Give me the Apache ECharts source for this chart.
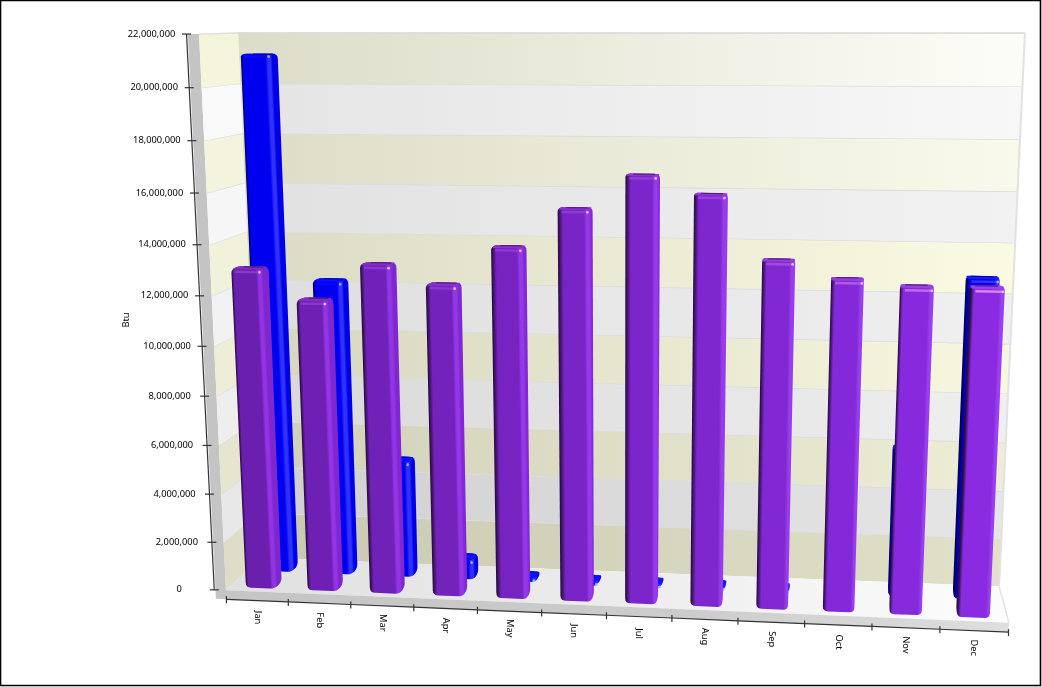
<!DOCTYPE html>
<html><head><meta charset="utf-8">
<style>html,body{margin:0;padding:0;background:#fff}#c{width:1042px;height:687px}</style>
<script src="https://cdn.jsdelivr.net/npm/echarts@6/dist/echarts.min.js"></script>
</head><body><div id="c"></div>
<script>
var months=['Jan','Feb','Mar','Apr','May','Jun','Jul','Aug','Sep','Oct','Nov','Dec'];
var blueValues=[21200000,12250000,4880000,820000,150000,100000,90000,90000,70000,0,6000000,12800000];
var purpleValues=[13000000,11800000,13250000,12500000,14000000,15500000,16800000,16100000,13650000,12980000,12750000,12760000];
var yTicks=[0,2000000,4000000,6000000,8000000,10000000,12000000,14000000,16000000,18000000,20000000,22000000];
var stripeStarts=[0,2000000,4000000,6000000,8000000,10000000,12000000,14000000,16000000,18000000,20000000];
var backLeft=['#c9c9b3','#cfcfcf','#d0d0ba','#d8d8d8','#d6d6c0','#dedede','#dbdbc5','#e1e1e1','#dcdcc6','#e4e4e4','#dcdcc8'];
var backRight=['#e1e1c9','#e6e6e6','#eeeed6','#efefef','#f8f8e0','#f0f0f0','#fbfbe4','#f2f2f2','#fafaec','#f8f8f8','#fdfdf8'];
var sideColors=['#dedec8','#e8e8e8','#e6e6d0','#eeeeee','#eeeed8','#f2f2f2','#f2f2dc','#f6f6f6','#f4f4de','#f9f9f9','#f5f5dc'];

// camera calibration: model (band, value in millions, depth) to pixels
var calib=[[0,0,0,225,591],[12,0,0,1009,622],[12,0,1,999,587],[0,0,1,262,557],[0,22,1,237,33],[12,22,1,1025,33],[0,22,0,200,34]];
function solve(A,b){var n=b.length,i,j,k;for(i=0;i<n;i++){var p=i;for(k=i+1;k<n;k++)if(Math.abs(A[k][i])>Math.abs(A[p][i]))p=k;
 var t=A[i];A[i]=A[p];A[p]=t;t=b[i];b[i]=b[p];b[p]=t;
 for(k=i+1;k<n;k++){var f=A[k][i]/A[i][i];for(j=i;j<n;j++)A[k][j]-=f*A[i][j];b[k]-=f*b[i];}}
 var x=[];for(i=n-1;i>=0;i--){var s=b[i];for(j=i+1;j<n;j++)s-=A[i][j]*x[j];x[i]=s/A[i][i];}return x;}
var cam=(function(){var R=[],r=[];calib.forEach(function(c){var X=c[0]/12,Y=c[1]/22,Z=c[2],u=c[3]/1000,v=c[4]/1000;
 R.push([X,Y,Z,1,0,0,0,0,-u*X,-u*Y,-u*Z]);r.push(u);R.push([0,0,0,0,X,Y,Z,1,-v*X,-v*Y,-v*Z]);r.push(v);});
 var A=[],b=[],i,j,k;for(i=0;i<11;i++){A.push([]);var s=0;for(j=0;j<11;j++){var t=0;for(k=0;k<R.length;k++)t+=R[k][i]*R[k][j];A[i].push(t);}
 for(k=0;k<R.length;k++)s+=R[k][i]*r[k];b.push(s);}return solve(A,b);})();
function proj(X,Y,Z){X/=12;Y/=22;var w=cam[8]*X+cam[9]*Y+cam[10]*Z+1;
 return [1000*(cam[0]*X+cam[1]*Y+cam[2]*Z+cam[3])/w,1000*(cam[4]*X+cam[5]*Y+cam[6]*Z+cam[7])/w];}

var GRID={l:100,t:50,w:800,h:500};
function model(api,i,v){var p=api.coord([i,v]);return [(p[0]-GRID.l)/GRID.w*12,(GRID.t+GRID.h-p[1])/GRID.h*22];}
function hx(c){return [parseInt(c.substr(1,2),16),parseInt(c.substr(3,2),16),parseInt(c.substr(5,2),16)];}
function mix(a,b,t){var A=hx(a),B=hx(b);return 'rgb('+[0,1,2].map(function(k){return Math.round(A[k]+(B[k]-A[k])*t);}).join(',')+')';}
function hull(P){var p=P.slice().sort(function(a,b){return a[0]-b[0]||a[1]-b[1];});function cr(o,a,b){return (a[0]-o[0])*(b[1]-o[1])-(a[1]-o[1])*(b[0]-o[0]);}
 var l=[],u=[],i;for(i=0;i<p.length;i++){while(l.length>1&&cr(l[l.length-2],l[l.length-1],p[i])<=0)l.pop();l.push(p[i]);}
 for(i=p.length-1;i>=0;i--){while(u.length>1&&cr(u[u.length-2],u[u.length-1],p[i])<=0)u.pop();u.push(p[i]);}
 l.pop();u.pop();return l.concat(u);}
function rnd(P,r){var o=[],n=P.length;for(var i=0;i<n;i++){var c=P[i],a=P[(i+n-1)%n],b=P[(i+1)%n];
 var da=Math.hypot(a[0]-c[0],a[1]-c[1])||1,db=Math.hypot(b[0]-c[0],b[1]-c[1])||1,q=Math.min(r,da/2,db/2);
 var s=[c[0]+(a[0]-c[0])/da*q,c[1]+(a[1]-c[1])/da*q],e=[c[0]+(b[0]-c[0])/db*q,c[1]+(b[1]-c[1])/db*q];
 for(var k=0;k<=4;k++){var t=k/4,m=1-t;o.push([m*m*s[0]+2*m*t*c[0]+t*t*e[0],m*m*s[1]+2*m*t*c[1]+t*t*e[1]]);}}return o;}

function barRenderer(z0,z1,pal){return function(params,api){
 var i=api.value(0),v=api.value(1);if(!v)return {type:'group',children:[]};
 var m=model(api,i,v),cx=m[0],Y=m[1],hw=0.235,t=i/11;
 var x0=cx-hw,x1=cx+hw;
 var fl0=proj(x0,0,z0),fr0=proj(x1,0,z0),bl0=proj(x0,0,z1),br0=proj(x1,0,z1);
 var fl=proj(x0,Y,z0),fr=proj(x1,Y,z0),bl=proj(x0,Y,z1),br=proj(x1,Y,z1);
 var sil=hull([fl0,fr0,bl0,br0,fl,fr,bl,br]);
 var ex=fl0[0]-fl[0],ey=fl0[1]-fl[1],len=Math.hypot(ex,ey)||1,nx=ey/len,ny=-ex/len;
 function dot(p){return p[0]*nx+p[1]*ny;}
 var ds=sil.map(dot),mn=Math.min.apply(null,ds),mx=Math.max.apply(null,ds),sp=(mx-mn)||1;
 function off(d){return Math.max(0,Math.min(1,(d-mn)/sp));}
 var a=dot(fl),b=dot(fr);
 var main=mix(pal.mainL,pal.mainR,t),hi=mix(pal.hiL,pal.hiR,t),side=mix(pal.sideL,pal.sideR,t);
 var st=[];
 if(a-mn>1.5){st.push([0,mix(pal.mainL,'#000000',0.72)],[off(a),mix(pal.mainL,'#000000',0.5)],[off(a+3),main]);}
 else{st.push([0,mix(pal.mainL,'#000000',0.68)],[off(mn+2.5+3*Math.sin(t*Math.PI)),main]);}
 st.push([off(b-5.5),main],[off(b-3),hi],[off(b-0.5),hi]);
 if(mx-b>1.5){st.push([off(b+1.5),side],[1,side]);}else{st.push([1,hi]);}
 var stops=[],last=0;st.forEach(function(s){last=Math.max(last,s[0]);stops.push({offset:last,color:s[1]});});
 var fill={type:'linear',x:mn*nx,y:mn*ny,x2:mx*nx,y2:mx*ny,global:true,colorStops:stops};
 var kids=[{type:'polygon',shape:{points:rnd(sil,5)},style:{fill:fill}}];
 var topHull=rnd(hull([fl,fr,bl,br]),4);
 kids.push({type:'polygon',shape:{points:topHull},style:{fill:mix(pal.topL,pal.topR,t)}});
 var w=[br[0]-bl[0],br[1]-bl[1]],wl=Math.hypot(w[0],w[1])||1;w=[w[0]/wl,w[1]/wl];
 kids.push({type:'line',shape:{x1:bl[0]+w[0]*5,y1:bl[1]+w[1]*5+0.5,x2:br[0]-w[0]*5,y2:br[1]-w[1]*5+0.5},style:{stroke:mix(pal.mainL,'#000000',0.3),lineWidth:1.2,opacity:0.8}});
 var u=[(fr[0]-fl[0]),(fr[1]-fl[1])],ul=Math.hypot(u[0],u[1])||1;u=[u[0]/ul,u[1]/ul];
 var yo=2.5,g=Math.pow(t,4);
 kids.push({type:'line',shape:{x1:fl[0]+u[0]*4,y1:fl[1]+yo,x2:fr[0]-u[0]*3,y2:fr[1]+yo},style:{stroke:mix(pal.glowL,pal.glowR,g),lineWidth:2.5,opacity:0.9}});
 kids.push({type:'circle',shape:{cx:fr[0]-2,cy:fr[1]+2.5,r:1.4},style:{fill:pal.spot}});
 return {type:'group',children:kids};
};}
var purplePal={mainL:'#6a1fae',mainR:'#8a2be2',hiL:'#9233e6',hiR:'#9a40ee',sideL:'#7d27cc',sideR:'#8a2be2',topL:'#7e2cc0',topR:'#9a42e6',glowL:'#8e38d4',glowR:'#e488fa',spot:'#e8b8ff'};
var bluePal={mainL:'#0000f0',mainR:'#0000f8',hiL:'#3030ff',hiR:'#3030ff',sideL:'#0000e6',sideR:'#0000f0',topL:'#0c0cff',topR:'#1a1aff',glowL:'#0808ff',glowR:'#3838ff',spot:'#a8a8ff'};

function wallRenderer(params,api){
 var v=api.value(0),k=params.dataIndex,a=model(api,0,v)[1],b=a+2;
 var p=[proj(0,a,1),proj(12,a,1),proj(12,b,1),proj(0,b,1)];
 var q=[proj(0,a,0),proj(0,a,1),proj(0,b,1),proj(0,b,0)];
 var lc='#dcdcdc';
 var kids=[{type:'polygon',shape:{points:p},style:{fill:{type:'linear',x:0,y:0,x2:1,y2:0,colorStops:[{offset:0,color:backLeft[k]},{offset:1,color:backRight[k]}]}}},
  {type:'polygon',shape:{points:q},style:{fill:sideColors[k]}},
  {type:'polyline',shape:{points:[q[3],q[2],p[2],p[2]]},style:{stroke:lc,lineWidth:1.2,fill:null}},
  {type:'line',shape:{x1:p[3][0],y1:p[3][1],x2:p[2][0],y2:p[2][1]},style:{stroke:lc,lineWidth:1.2}},
  {type:'line',shape:{x1:p[1][0],y1:p[1][1],x2:p[2][0],y2:p[2][1]},style:{stroke:'#e2e2e2',lineWidth:2}}];
 if(k===0){
  var a0=proj(0,0,0),a1=proj(12,0,0),a2=proj(12,0,1),a3=proj(0,0,1),s=-0.38,o=-0.17;
  var f=[proj(o,s,0),proj(12,s,0),a1,proj(0,0,0),proj(0,22,0),proj(o,22,0)];
  kids.push({type:'polygon',shape:{points:[a0,a1,a2,a3]},style:{fill:{type:'linear',x:0,y:0,x2:1,y2:0,colorStops:[{offset:0,color:'#e0e0e0'},{offset:0.5,color:'#ececec'},{offset:1,color:'#fdfdfd'}]}}});
  kids.push({type:'polygon',shape:{points:f},style:{fill:{type:'linear',x:0,y:0,x2:1,y2:0,colorStops:[{offset:0,color:'#c4c4c4'},{offset:0.6,color:'#cccccc'},{offset:1,color:'#dedede'}]}}});
  kids.push({type:'line',shape:{x1:a1[0],y1:a1[1],x2:a2[0],y2:a2[1]},style:{stroke:'#e4e4e4',lineWidth:1.5}});
 }
 return {type:'group',children:kids};
}
function yAxisRenderer(params,api){
 var Y=model(api,0,api.value(0))[1],p=proj(-0.19,Y,0);
 return {type:'group',children:[
  {type:'line',shape:{x1:p[0]-4.5,y1:p[1],x2:p[0]+4.5,y2:p[1]},style:{stroke:'#333',lineWidth:1.2}},
  {type:'text',x:p[0]-35,y:p[1],style:{text:echarts.format.addCommas(api.value(0)),textAlign:'center',textVerticalAlign:'middle',fill:'#000',font:'9.3px "Noto Sans"'}}]};
}
function xAxisRenderer(params,api){
 var i=params.dataIndex,s=-0.38,a=proj(i,s,0),b=proj(i+1,s,0),m=proj(i+0.5,s,0);
 var kids=[{type:'line',shape:{x1:a[0],y1:a[1],x2:b[0],y2:b[1]},style:{stroke:'#333',lineWidth:1.2}},
  {type:'line',shape:{x1:a[0],y1:a[1]-3,x2:a[0],y2:a[1]+4},style:{stroke:'#333',lineWidth:1.2}},
  {type:'text',x:m[0],y:m[1]+17,rotation:-Math.PI/2,style:{text:months[i],textAlign:'center',textVerticalAlign:'middle',fill:'#000',font:'9.3px "Noto Sans"'}}];
 if(i===11)kids.push({type:'line',shape:{x1:b[0],y1:b[1]-3,x2:b[0],y2:b[1]+4},style:{stroke:'#333',lineWidth:1.2}});
 if(i===0){var t=proj(-0.19,22,0),o=proj(-0.19,0,0);kids.push({type:'line',shape:{x1:t[0],y1:t[1],x2:o[0],y2:o[1]},style:{stroke:'#333',lineWidth:1.2}});}
 return {type:'group',children:kids};
}
function pairs(vals){return vals.map(function(v,i){return [i,v];});}
var chart=echarts.init(document.getElementById('c'),null,{renderer:'canvas'});
chart.setOption({
 animation:false,backgroundColor:'#fff',
 grid:{left:GRID.l,top:GRID.t,width:GRID.w,height:GRID.h},
 xAxis:{type:'category',data:months,show:false},
 yAxis:{type:'value',min:0,max:22000000,interval:2000000,show:false},
 graphic:[
  {type:'rect',z:100,shape:{x:0.5,y:0.5,width:1040,height:685},style:{fill:null,stroke:'#000',lineWidth:1.6}},
  {type:'text',z:100,x:126,y:320,rotation:Math.PI/2,style:{text:'Btu',textAlign:'center',textVerticalAlign:'middle',fill:'#000',font:'9.3px "Noto Sans"'}}
 ],
 series:[
  {type:'custom',z:1,clip:false,silent:true,data:stripeStarts.map(function(v){return [v];}),encode:{y:0},renderItem:wallRenderer},
  {type:'custom',z:2,clip:false,silent:true,name:'Blue',data:pairs(blueValues),encode:{x:0,y:1},renderItem:barRenderer(0.60,0.80,bluePal)},
  {type:'custom',z:3,clip:false,silent:true,name:'Purple',data:pairs(purpleValues),encode:{x:0,y:1},renderItem:barRenderer(0.10,0.30,purplePal)},
  {type:'custom',z:4,clip:false,silent:true,data:yTicks.map(function(v){return [v];}),encode:{y:0},renderItem:yAxisRenderer},
  {type:'custom',z:4,clip:false,silent:true,data:months.map(function(m,i){return [i];}),encode:{x:0},renderItem:xAxisRenderer}
 ]
});
</script></body></html>
